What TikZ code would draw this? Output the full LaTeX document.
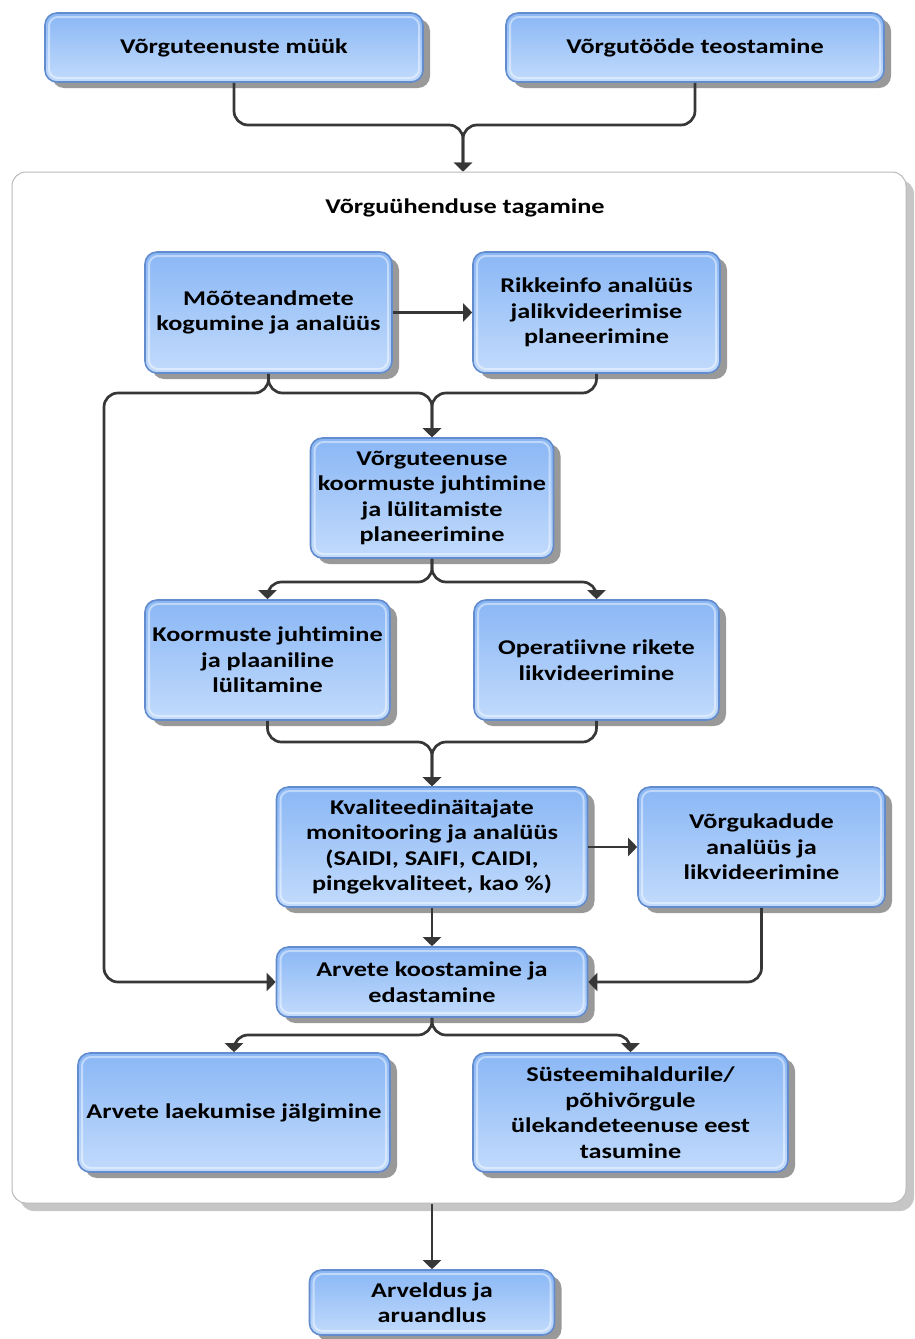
\documentclass[tikz,border=0pt]{standalone}
\usepackage{fontspec}
\setmainfont{Carlito}[FakeStretch=1.25, Ligatures=NoCommon]
\usetikzlibrary{arrows.meta,shadows}

\definecolor{boxtop}{RGB}{138,183,245}
\definecolor{boxbot}{RGB}{194,219,252}
\definecolor{boxline}{RGB}{98,140,205}
\definecolor{linkcol}{RGB}{55,55,55}

\tikzset{
  proc/.style={rounded corners=12pt, top color=boxtop, bottom color=boxbot,
    draw=boxline, line width=1.6pt, align=center, inner sep=0pt,
    font=\bfseries\fontsize{21}{25.5}\selectfont,
    drop shadow={shadow xshift=7pt, shadow yshift=-6pt, fill=black!40, opacity=1},
    % light bevel just inside the border
    path picture={\draw[white, opacity=0.45, line width=2pt, rounded corners=9pt]
      ([shift={(4pt,-4pt)}]path picture bounding box.north west) rectangle
      ([shift={(-4pt,4pt)}]path picture bounding box.south east);}},
  frame/.style={rounded corners=14pt, fill=white, draw=gray!55, line width=1pt,
    drop shadow={shadow xshift=8pt, shadow yshift=-8pt, fill=gray!45, opacity=1}},
  link/.style={draw=linkcol, line width=2.7pt, rounded corners=14pt,
    -{Triangle[width=18pt,length=9pt]}},
  heading/.style={font=\bfseries\fontsize{21}{25.5}\selectfont}
}

\begin{document}
\begin{tikzpicture}[x=1pt,y=-1pt]
\useasboundingbox (0,0) rectangle (914,1339);

% top-level inputs
\node[proc, minimum width=378pt, minimum height=69pt] (A) at (234,47.5) {Võrguteenuste müük};
\node[proc, minimum width=378pt, minimum height=69pt] (B) at (695,47.5) {Võrgutööde teostamine};

% enclosing process group
\node[frame, minimum width=894pt, minimum height=1031pt] (frame) at (459,687.5) {};
\node[heading] (title) at (465,208) {Võrguühenduse tagamine};

\node[proc, minimum width=247pt, minimum height=121pt] (C) at (268.5,312.5) {Mõõteandmete\\kogumine ja analüüs};
\node[proc, minimum width=247pt, minimum height=121pt] (D) at (596.5,312.5) {Rikkeinfo analüüs\\jalikvideerimise\\planeerimine};
\node[proc, minimum width=243pt, minimum height=120pt] (E) at (432,498) {Võrguteenuse\\koormuste juhtimine\\ja lülitamiste\\planeerimine};
\node[proc, minimum width=245pt, minimum height=120pt] (F) at (267.5,660) {Koormuste juhtimine\\ja plaaniline\\lülitamine};
\node[proc, minimum width=245pt, minimum height=120pt] (G) at (596.5,660) {Operatiivne rikete\\likvideerimine};
\node[proc, minimum width=311pt, minimum height=120pt] (H) at (432,847) {Kvaliteedinäitajate\\monitooring ja analüüs\\(SAIDI, SAIFI, CAIDI,\\pingekvaliteet, kao \%)};
\node[proc, minimum width=247pt, minimum height=120pt] (I) at (761.5,847) {Võrgukadude\\analüüs ja\\likvideerimine};
\node[proc, minimum width=311pt, minimum height=70pt] (J) at (432,982) {Arvete koostamine ja\\edastamine};
\node[proc, minimum width=312pt, minimum height=119pt] (K) at (234,1112.5) {Arvete laekumise jälgimine};
\node[proc, minimum width=315pt, minimum height=119pt] (L) at (630.5,1112.5) {Süsteemihaldurile/\\põhivõrgule\\ülekandeteenuse eest\\tasumine};

% output
\node[proc, minimum width=245pt, minimum height=65pt] (M) at (432,1302.5) {Arveldus ja\\aruandlus};

% junction points of the connectors
\coordinate (j1) at (463,125);
\coordinate (j2) at (432,393);
\coordinate (railL) at (104,393);
\coordinate (j3) at (432,582);
\coordinate (j4) at (432,742);
\coordinate (j5) at (432,1035);

\draw[link] (A.south) |- (j1) -- (j1 |- frame.north);
\draw[link] (B.south) |- (j1) -- (j1 |- frame.north);

\draw[link] (C.east) -- (D.west);
\draw[link] (C.south) |- (j2) -- (E.north);
\draw[link] (D.south) |- (j2) -- (E.north);
\draw[link] (C.south) |- (railL) |- (J.west);

\draw[link] (E.south) -- (j3) -| (F.north);
\draw[link] (E.south) -- (j3) -| (G.north);

\draw[link] (F.south) |- (j4) -- (H.north);
\draw[link] (G.south) |- (j4) -- (H.north);

\draw[link] (H.east) -- (I.west);
\draw[link] (H.south) -- (J.north);
\draw[link] (I.south) |- (J.east);

\draw[link] (J.south) -- (j5) -| (K.north);
\draw[link] (J.south) -- (j5) -| (L.north);

\draw[link] (frame.south -| M.north) -- (M.north);
\end{tikzpicture}
\end{document}
